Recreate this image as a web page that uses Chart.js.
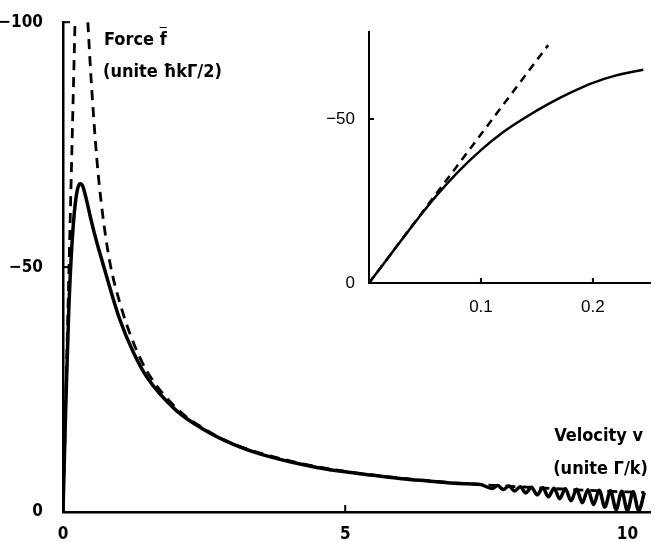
<!DOCTYPE html>
<html>
<head>
<meta charset="utf-8">
<script src="https://cdn.jsdelivr.net/npm/chart.js@4"></script>
<style>
  body { margin: 0; background: #fff; }
  #wrap { position: relative; width: 655px; height: 542px; overflow: hidden; }
  canvas { position: absolute; }
  .lbl {
    position: absolute;
    font-family: "DejaVu Sans Condensed", "Liberation Sans Narrow", sans-serif;
    font-weight: bold;
    font-size: 18px;
    color: #000;
    white-space: nowrap;
  }
  .bar { text-decoration: overline; }
</style>
</head>
<body>
<div id="wrap">
  <canvas id="mainChart" width="655" height="542" style="left:0;top:0"></canvas>
  <canvas id="insetChart" width="355" height="300" style="left:300px;top:15px"></canvas>
  <div class="lbl" style="left:104px;top:28px">Force <span class="bar">f</span></div>
  <div class="lbl" style="left:103px;top:60px">(unite ħkΓ/2)</div>
  <div class="lbl" style="right:12px;top:424px">Velocity v</div>
  <div class="lbl" style="right:7px;top:457px">(unite Γ/k)</div>
</div>
<script>
// main plot : force vs velocity
const mainXTicks = [0, 5, 10];
const mainYTicks = [-100, -50, 0];

const solidV = [0, 0.05, 0.1, 0.15, 0.2, 0.25, 0.3, 0.35, 0.4, 0.5, 0.6, 0.7, 0.8, 1.0, 1.25, 1.5, 2.0, 2.5, 3.0, 3.5, 4.0, 4.5, 5.0, 5.5, 6.0, 6.5, 7.0, 7.4,
  7.6, 7.7, 7.8, 7.9, 8.0, 8.1, 8.2, 8.3, 8.4, 8.5, 8.6, 8.7, 8.8, 8.9, 9.0, 9.1, 9.2, 9.3, 9.4, 9.5, 9.6, 9.7, 9.8, 9.9, 10.0, 10.1, 10.2, 10.3];
const solidF = [0, -22, -40.5, -53, -61, -65.5, -67, -66.5, -64.5, -59.5, -55, -51, -47, -39.5, -32.5, -27.3, -20.8, -16.8, -13.9, -11.8, -10.3, -9.1, -8.2, -7.5, -6.8, -6.3, -5.8, -5.6,
  -4.8, -5.4, -4.6, -5.3, -4.3, -5.15, -3.9, -5.05, -3.5, -4.95, -3.1, -4.85, -2.7, -4.75, -2.3, -4.65, -1.9, -4.55, -1.5, -4.45, -1.0, -4.35, -0.5, -4.25, -0.3, -4.15, -0.3, -4.0];

// high velocity asymptote (dashed)
const highV = [0.44, 0.5, 0.6, 0.7, 0.83, 1.0, 1.25, 1.5, 2.0, 2.5, 3.0, 4.0, 5.0, 6.0, 7.0, 8.0, 9.0, 10.0, 10.3];
const highF = [-100, -88, -72, -61, -51, -43, -34.5, -28.5, -21.3, -17, -14, -10.5, -8.3, -6.9, -5.9, -5.2, -4.6, -4.1, -4.0];

// low velocity linear approximation (dashed)
const lowV = [0, 0.213];
const lowF = [0, -100];

// inset : zoom on small velocities
const insetXTicks = [0.1, 0.2];
const insetYTicks = [-50, 0];
const insetSolidV = [0, 0.02, 0.04, 0.06, 0.08, 0.1, 0.12, 0.14, 0.16, 0.18, 0.2, 0.22, 0.245];
const insetSolidF = [0, -9, -18, -26.5, -34, -40.5, -46, -50.5, -54.5, -58, -61, -63.2, -65];
const insetDashV = [0, 0.16];
const insetDashF = [0, -72.5];

const pts = (xs, ys) => xs.map((x, i) => ({ x: x, y: ys[i] }));

const boldFont = { family: "'DejaVu Sans Condensed', 'Liberation Sans Narrow', sans-serif", weight: "bold", size: 17 };
const plainFont = { family: "'Liberation Sans', Arial, sans-serif", size: 17 };

// small tick marks drawn inside the plot area
const innerTicks = {
  id: "innerTicks",
  afterDraw(chart, args, opts) {
    const ctx = chart.ctx;
    const xs = chart.scales.x;
    const ys = chart.scales.y;
    ctx.save();
    ctx.strokeStyle = "#000";
    ctx.lineWidth = 2;
    opts.x.forEach((v) => {
      const px = xs.getPixelForValue(v);
      ctx.beginPath();
      ctx.moveTo(px, ys.bottom);
      ctx.lineTo(px, ys.bottom - opts.len);
      ctx.stroke();
    });
    opts.y.forEach((v) => {
      const py = ys.getPixelForValue(v);
      ctx.beginPath();
      ctx.moveTo(xs.left, py);
      ctx.lineTo(xs.left + opts.len, py);
      ctx.stroke();
    });
    ctx.restore();
  },
};

const mainCtx = document.getElementById("mainChart").getContext("2d");
const mainChart = new Chart(mainCtx, {
  type: "line",
  data: {
    datasets: [
      {
        label: "Force",
        data: pts(solidV, solidF),
        borderColor: "#000",
        borderWidth: 3.5,
        pointRadius: 0,
        cubicInterpolationMode: "monotone",
      },
      {
        label: "Asymptote",
        data: pts(highV, highF),
        borderColor: "#000",
        borderWidth: 2.8,
        borderDash: [10, 7],
        pointRadius: 0,
        cubicInterpolationMode: "monotone",
      },
      {
        label: "Linear",
        data: pts(lowV, lowF),
        borderColor: "#000",
        borderWidth: 2.8,
        borderDash: [10, 7],
        pointRadius: 0,
      },
    ],
  },
  options: {
    responsive: false,
    animation: false,
    devicePixelRatio: 1,
    layout: { padding: { top: 18, right: 5 } },
    plugins: {
      legend: { display: false },
      tooltip: { enabled: false },
      innerTicks: { x: [5, 10], y: [-100, -50], len: 7 },
    },
    scales: {
      x: {
        type: "linear",
        min: 0,
        max: 10.4,
        grid: { display: false },
        border: { display: true, color: "#000", width: 2.5 },
        afterBuildTicks: (axis) => { axis.ticks = mainXTicks.map((v) => ({ value: v })); },
        afterFit: (axis) => { axis.height = 30; },
        ticks: { color: "#000", font: boldFont, padding: 4, maxRotation: 0 },
      },
      y: {
        type: "linear",
        min: -100,
        max: 0,
        reverse: true,
        grid: { display: false },
        border: { display: true, color: "#000", width: 2.5 },
        afterBuildTicks: (axis) => { axis.ticks = mainYTicks.map((v) => ({ value: v })); },
        afterFit: (axis) => { axis.width = 63; },
        ticks: {
          color: "#000",
          font: boldFont,
          padding: 12,
          callback: (v) => (v < 0 ? "−" + Math.abs(v) : "" + v),
        },
      },
    },
  },
  plugins: [innerTicks],
});

const insetCtx = document.getElementById("insetChart").getContext("2d");
const insetChart = new Chart(insetCtx, {
  type: "line",
  data: {
    datasets: [
      {
        label: "Force",
        data: pts(insetSolidV, insetSolidF),
        borderColor: "#000",
        borderWidth: 2.5,
        pointRadius: 0,
        cubicInterpolationMode: "monotone",
      },
      {
        label: "Linear",
        data: pts(insetDashV, insetDashF),
        borderColor: "#000",
        borderWidth: 2.5,
        borderDash: [8, 6],
        pointRadius: 0,
      },
    ],
  },
  options: {
    responsive: false,
    animation: false,
    devicePixelRatio: 1,
    layout: { padding: { top: 17, right: 5 } },
    plugins: {
      legend: { display: false },
      tooltip: { enabled: false },
      innerTicks: { x: [0.1, 0.2], y: [-50], len: 5 },
    },
    scales: {
      x: {
        type: "linear",
        min: 0,
        max: 0.251,
        grid: { display: false },
        border: { display: true, color: "#000", width: 2 },
        afterBuildTicks: (axis) => { axis.ticks = insetXTicks.map((v) => ({ value: v })); },
        afterFit: (axis) => { axis.height = 32; },
        ticks: { color: "#000", font: plainFont, padding: 6, maxRotation: 0 },
      },
      y: {
        type: "linear",
        min: -76.5,
        max: 0,
        reverse: true,
        grid: { display: false },
        border: { display: true, color: "#000", width: 2 },
        afterBuildTicks: (axis) => { axis.ticks = insetYTicks.map((v) => ({ value: v })); },
        afterFit: (axis) => { axis.width = 69; },
        ticks: {
          color: "#000",
          font: plainFont,
          padding: 6,
          callback: (v) => (v < 0 ? "−" + Math.abs(v) : "" + v),
        },
      },
    },
  },
  plugins: [innerTicks],
});
</script>
</body>
</html>
